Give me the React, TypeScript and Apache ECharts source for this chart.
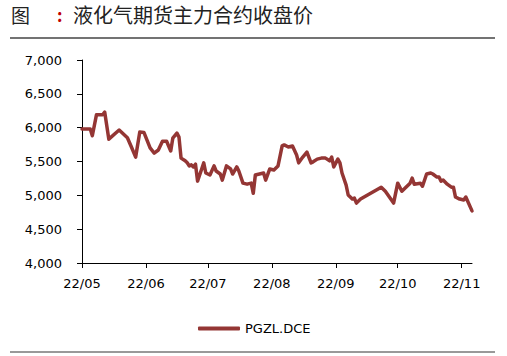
import React, { useEffect, useRef } from "react";
import * as echarts from "echarts";

const seriesName = "PGZL.DCE";
const dates: string[] = [
  "2022-05-01","2022-05-05","2022-05-06","2022-05-08","2022-05-11","2022-05-12","2022-05-14","2022-05-19",
  "2022-05-23","2022-05-25","2022-05-27","2022-05-29","2022-05-31","2022-06-03","2022-06-05","2022-06-07",
  "2022-06-09","2022-06-11","2022-06-13","2022-06-14","2022-06-16","2022-06-17","2022-06-18","2022-06-20",
  "2022-06-21","2022-06-22","2022-06-23","2022-06-24","2022-06-25","2022-06-26","2022-06-28","2022-06-29",
  "2022-06-30","2022-07-02","2022-07-04","2022-07-05","2022-07-07","2022-07-08","2022-07-10","2022-07-12",
  "2022-07-13","2022-07-15","2022-07-16","2022-07-18","2022-07-20","2022-07-22","2022-07-23","2022-07-24",
  "2022-07-26","2022-07-28","2022-07-29","2022-07-31","2022-08-02","2022-08-04","2022-08-06","2022-08-07",
  "2022-08-09","2022-08-11","2022-08-13","2022-08-14","2022-08-16","2022-08-18","2022-08-20","2022-08-21",
  "2022-08-23","2022-08-25","2022-08-27","2022-08-29","2022-08-30","2022-08-31","2022-09-02","2022-09-03",
  "2022-09-04","2022-09-06","2022-09-07","2022-09-09","2022-09-10","2022-09-11","2022-09-13","2022-09-23",
  "2022-09-25","2022-09-29","2022-10-01","2022-10-03","2022-10-05","2022-10-07","2022-10-08","2022-10-09",
  "2022-10-12","2022-10-13","2022-10-15","2022-10-17","2022-10-18","2022-10-20","2022-10-21","2022-10-22",
  "2022-10-23","2022-10-25","2022-10-27","2022-10-28","2022-10-29","2022-10-31","2022-11-02","2022-11-03",
  "2022-11-06"
];
const prices: number[] = [
  5980, 5980, 5880, 6190, 6190, 6230, 5830, 5965,
  5850, 5710, 5565, 5935, 5930, 5700, 5625, 5670,
  5800, 5800, 5655, 5845, 5920, 5860, 5550, 5510,
  5480, 5435, 5450, 5420, 5460, 5210, 5390, 5480,
  5330, 5300, 5435, 5360, 5315, 5225, 5435, 5390,
  5315, 5420, 5360, 5180, 5165, 5180, 5030, 5300,
  5315, 5330, 5225, 5390, 5375, 5435, 5730, 5745,
  5715, 5730, 5595, 5480, 5565, 5640, 5480, 5495,
  5535, 5550, 5550, 5510, 5565, 5420, 5535, 5480,
  5330, 5150, 5005, 4945, 4960, 4885, 4945, 5120,
  5060, 4885, 5180, 5060, 5120, 5180, 5255, 5165,
  5180, 5135, 5315, 5330, 5315, 5270, 5270, 5210,
  5225, 5165, 5120, 5120, 4975, 4945, 4930, 4975,
  4770
];
const monthTicks: string[] = ["2022-05-01","2022-06-01","2022-07-01","2022-08-01","2022-09-01","2022-10-01","2022-11-01"];
const axisStart = "2022-05-01";
const axisEnd = "2022-11-06";
const yMin = 4000;
const yMax = 7000;
const yStep = 500;
const titleLabel = "图";
const titleText = "液化气期货主力合约收盘价";

function toTs(s: string): number {
  const [y, m, d] = s.split("-").map(Number);
  return new Date(y, m - 1, d).getTime();
}

export default function App() {
  const ref = useRef<HTMLDivElement>(null);
  useEffect(() => {
    if (!ref.current) return;
    const chart = echarts.init(ref.current, undefined, { renderer: "svg" });
    const font = "DejaVu Sans";
    const tickVals = monthTicks.map(toTs);
    chart.setOption({
      animation: false,
      backgroundColor: "#fff",
      textStyle: { fontFamily: font },
      grid: { left: 82, top: 60, width: 390, height: 203, containLabel: false, outerBoundsMode: "none" },
      xAxis: {
        type: "value",
        min: toTs(axisStart),
        max: toTs(axisEnd),
        axisLine: { show: true, lineStyle: { color: "#000", width: 1 } },
        axisTick: { show: true, length: 5, lineStyle: { color: "#000" }, customValues: tickVals },
        axisLabel: {
          customValues: tickVals,
          margin: 14,
          color: "#000",
          fontSize: 13,
          fontFamily: font,
          hideOverlap: false,
          formatter: (v: number) => {
            const d = new Date(v);
            const yy = String(d.getFullYear()).slice(2);
            const mm = String(d.getMonth() + 1).padStart(2, "0");
            return yy + "/" + mm;
          },
        },
        splitLine: { show: false },
      },
      yAxis: {
        type: "value",
        min: yMin,
        max: yMax,
        interval: yStep,
        axisLine: { show: true, lineStyle: { color: "#000", width: 1 } },
        axisTick: { show: true, length: 5, lineStyle: { color: "#000" } },
        axisLabel: {
          margin: 20,
          color: "#000",
          fontSize: 13,
          fontFamily: font,
          formatter: (v: number) => v.toLocaleString("en-US"),
        },
        splitLine: { show: false },
      },
      legend: {
        show: true,
        left: 193,
        top: 317,
        icon: "roundRect",
        itemWidth: 42,
        itemHeight: 4,
        itemGap: 10,
        textStyle: { color: "#000", fontSize: 13, fontFamily: font },
        data: [seriesName],
      },
      graphic: [
        { type: "text", left: 11, top: 5, style: { text: titleLabel, fontSize: 19, fontFamily: "Noto Sans CJK SC", fill: "#222" } },
        { type: "text", left: 57, top: 6, style: { text: ":", fontSize: 17, fontWeight: "bold", fontFamily: "Noto Sans CJK SC", fill: "#c00000" } },
        { type: "text", left: 73, top: 4, style: { text: titleText, fontSize: 20, fontFamily: "Noto Sans CJK SC", fill: "#222" } },
        { type: "line", shape: { x1: 10, y1: 38, x2: 495, y2: 38 }, style: { stroke: "#444", lineWidth: 1.5 } },
        { type: "line", shape: { x1: 10, y1: 352, x2: 495, y2: 352 }, style: { stroke: "#777", lineWidth: 1.5 } },
      ],
      series: [
        {
          name: seriesName,
          type: "line",
          data: dates.map((d, i) => [toTs(d), prices[i]]),
          showSymbol: false,
          symbol: "none",
          lineStyle: { color: "#943634", width: 3.5, cap: "round", join: "round" },
          itemStyle: { color: "#943634" },
        },
      ],
    });
    return () => chart.dispose();
  }, []);
  return (
    <div
      ref={ref}
      style={{ position: "fixed", left: 0, top: 0, width: 507, height: 356 }}
    />
  );
}
